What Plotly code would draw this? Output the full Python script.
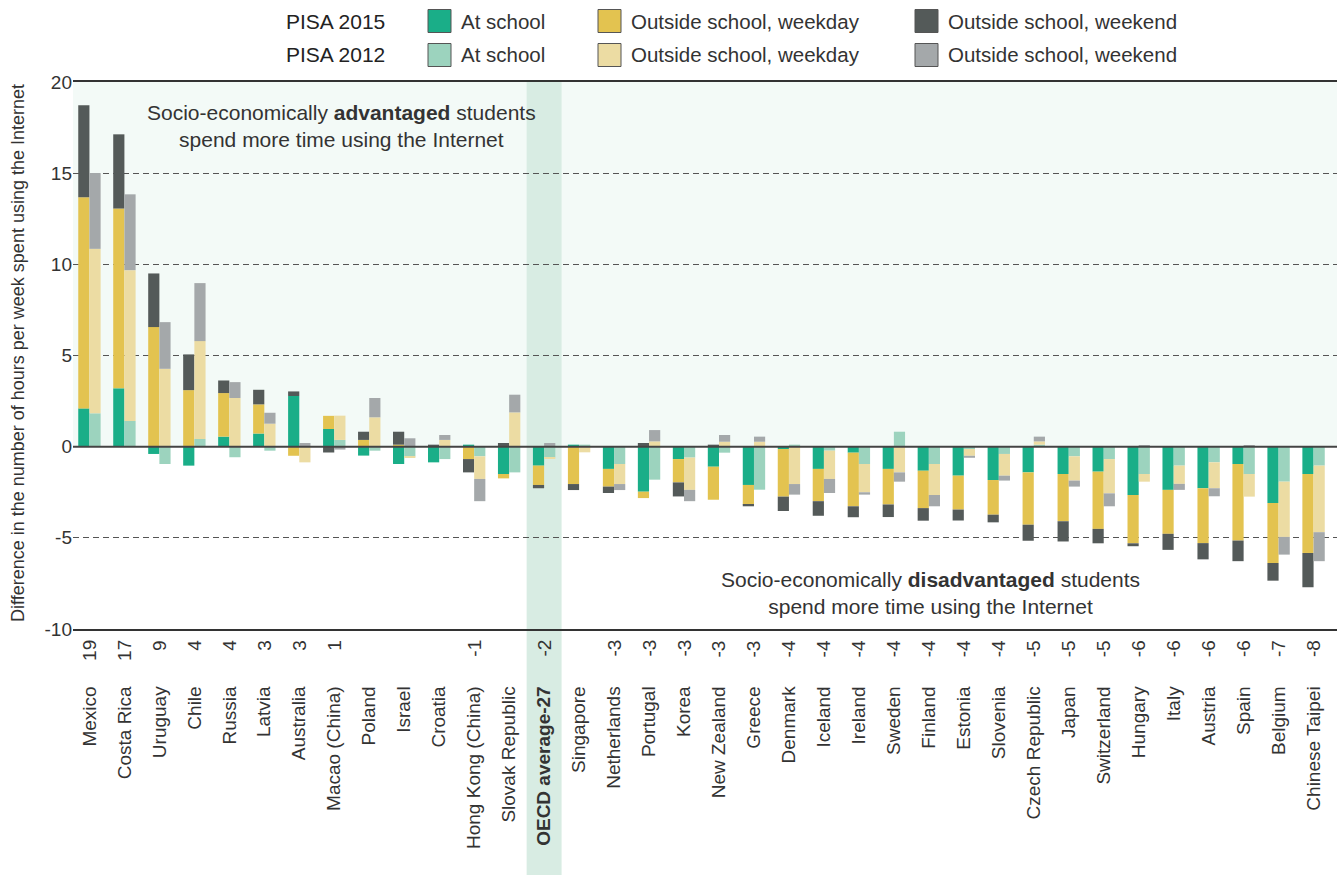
import plotly.graph_objects as go

countries = ["Mexico", "Costa Rica", "Uruguay", "Chile", "Russia", "Latvia", "Australia",
             "Macao (China)", "Poland", "Israel", "Croatia", "Hong Kong (China)", "Slovak Republic",
             "<b>OECD average-27</b>", "Singapore", "Netherlands", "Portugal", "Korea", "New Zealand",
             "Greece", "Denmark", "Iceland", "Ireland", "Sweden", "Finland", "Estonia", "Slovenia",
             "Czech Republic", "Japan", "Switzerland", "Hungary", "Italy", "Austria", "Spain",
             "Belgium", "Chinese Taipei"]
totals = ["19", "17", "9", "4", "4", "3", "3", "1", "", "", "", "-1", "", "-2", "", "-3", "-3", "-3",
          "-3", "-3", "-4", "-4", "-4", "-4", "-4", "-4", "-4", "-5", "-5", "-5", "-6", "-6", "-6",
          "-6", "-7", "-8"]

school_2015 = [2.10, 3.20, -0.40, -1.04, 0.55, 0.72, 2.78, 0.97, -0.49, -0.95, -0.86, 0.11, -1.50,
               -1.04, 0.11, -1.22, -2.47, -0.68, -1.10, -2.10, -0.13, -1.22, -0.33, -1.22, -1.32,
               -1.59, -1.83, -1.41, -1.50, -1.37, -2.65, -2.37, -2.28, -0.95, -3.09, -1.50]
weekday_2015 = [11.58, 9.86, 6.56, 3.10, 2.39, 1.60, -0.50, 0.72, 0.37, 0.11, 0.00, -0.68, -0.24,
                -1.06, -2.05, -0.97, -0.35, -1.28, -1.81, -1.08, -2.61, -1.77, -2.94, -1.95, -2.05,
                -1.86, -1.90, -2.87, -2.59, -3.14, -2.65, -2.41, -3.01, -4.20, -3.29, -4.33]
weekend_2015 = [5.04, 4.07, 2.94, 1.96, 0.69, 0.80, 0.25, -0.32, 0.45, 0.71, 0.11, -0.73, 0.20,
                -0.18, -0.33, -0.35, 0.20, -0.77, 0.11, -0.09, -0.79, -0.80, -0.60, -0.69, -0.69,
                -0.60, -0.42, -0.88, -1.11, -0.79, -0.16, -0.88, -0.89, -1.13, -0.97, -1.88]

school_2012 = [1.83, 1.41, -0.95, 0.42, -0.58, -0.22, 0.00, 0.37, -0.22, -0.53, -0.68, -0.53, -1.41,
               -0.58, 0.11, -0.95, -1.81, -0.60, -0.33, -2.36, 0.11, -0.22, -0.95, 0.82, -0.95,
               -0.13, -0.40, 0.11, -0.53, -0.68, -1.50, -1.04, -0.86, -1.50, -1.92, -1.04]
weekday_2012 = [9.02, 8.27, 4.27, 5.37, 2.67, 1.26, -0.86, 1.33, 1.61, -0.07, 0.37, -1.24, 1.88,
                -0.09, -0.31, -1.10, 0.29, -1.77, 0.27, 0.27, -2.05, -1.55, -1.55, -1.41, -1.70,
                -0.37, -1.19, 0.18, -1.33, -1.88, -0.42, -1.00, -1.42, -1.24, -3.03, -3.65]
weekend_2012 = [4.16, 4.16, 2.56, 3.18, 0.87, 0.60, 0.20, -0.16, 1.06, 0.46, 0.27, -1.22, 0.97,
                0.20, 0.00, -0.33, 0.62, -0.62, 0.37, 0.28, -0.58, -0.77, -0.13, -0.51, -0.62,
                -0.11, -0.27, 0.26, -0.33, -0.71, 0.09, -0.33, -0.44, 0.09, -0.97, -1.59]

series_names = ["At school", "Outside school, weekday", "Outside school, weekend"]
colors_2015 = ["#1aae88", "#e3c350", "#545a59"]
colors_2012 = ["#9cd3be", "#ecdca3", "#a4a8aa"]

FONT = "Liberation Sans"
TXT = "#333333"
W, H = 1341, 875
L, R, T, B = 73, 4, 82, 246
PW, PH = W - L - R, H - T - B


def px_x(px):
    return (px - L) / PW


def px_y(py):
    return (H - B - py) / PH


idx = list(range(len(countries)))
x15 = [i - 0.16 for i in idx]
x12 = [i + 0.16 for i in idx]

fig = go.Figure()
for vals, name, col in zip([school_2015, weekday_2015, weekend_2015], series_names, colors_2015):
    fig.add_trace(go.Bar(x=x15, y=vals, width=0.32, name=name + " (PISA 2015)",
                         marker=dict(color=col, line=dict(width=0)), showlegend=False))
for vals, name, col in zip([school_2012, weekday_2012, weekend_2012], series_names, colors_2012):
    fig.add_trace(go.Bar(x=x12, y=vals, width=0.32, name=name + " (PISA 2012)",
                         marker=dict(color=col, line=dict(width=0)), showlegend=False))

shapes = []
# advantaged region background
shapes.append(dict(type="rect", xref="paper", yref="y", x0=0, x1=1, y0=0, y1=20,
                   fillcolor="#f3faf7", line=dict(width=0), layer="below"))
# OECD column highlight
oecd_i = 13
shapes.append(dict(type="rect", xref="x", yref="paper", x0=oecd_i - 0.5, x1=oecd_i + 0.5,
                   y0=px_y(H), y1=1, fillcolor="#d8ece3", line=dict(width=0), layer="below"))
# zero line above bars
shapes.append(dict(type="line", xref="paper", yref="y", x0=0, x1=1, y0=0, y1=0,
                   line=dict(color="#444444", width=2), layer="above"))

annotations = []
for i, t in enumerate(totals):
    if t:
        annotations.append(dict(x=i, xref="x", y=px_y(638), yref="paper", text=t, textangle=-90,
                                showarrow=False, xanchor="center", yanchor="top",
                                font=dict(family=FONT, size=19, color=TXT)))

annotations.append(dict(x=px_x(341), y=px_y(126), xref="paper", yref="paper",
                        text="Socio-economically <b>advantaged</b> students<br>spend more time using the Internet",
                        showarrow=False, xanchor="center", yanchor="middle", align="center",
                        font=dict(family=FONT, size=21, color=TXT)))
annotations.append(dict(x=px_x(931), y=px_y(593), xref="paper", yref="paper",
                        text="Socio-economically <b>disadvantaged</b> students<br>spend more time using the Internet",
                        showarrow=False, xanchor="center", yanchor="middle", align="center",
                        font=dict(family=FONT, size=21, color=TXT)))
annotations.append(dict(x=px_x(18), y=px_y(353), xref="paper", yref="paper",
                        text="Difference in the number of hours per week spent using the Internet",
                        textangle=-90, showarrow=False, xanchor="center", yanchor="middle",
                        font=dict(family=FONT, size=18, color=TXT)))

# custom legend
row_y = [21, 55]
row_labels = ["PISA 2015", "PISA 2012"]
swatch_x = [428, 598, 915]
for r, (ry, lab, cols) in enumerate(zip(row_y, row_labels, [colors_2015, colors_2012])):
    annotations.append(dict(x=px_x(284), y=px_y(ry), xref="paper", yref="paper", text=lab,
                            showarrow=False, xanchor="left", yanchor="middle",
                            font=dict(family=FONT, size=21, color="#222222")))
    for sx, name, col in zip(swatch_x, series_names, cols):
        shapes.append(dict(type="rect", xref="paper", yref="paper",
                           x0=px_x(sx), x1=px_x(sx + 23), y0=px_y(ry - 11.5), y1=px_y(ry + 11.5),
                           fillcolor=col, line=dict(color="#555555", width=1), layer="above"))
        annotations.append(dict(x=px_x(sx + 31), y=px_y(ry), xref="paper", yref="paper", text=name,
                                showarrow=False, xanchor="left", yanchor="middle",
                                font=dict(family=FONT, size=20.5, color=TXT)))

fig.update_layout(
    width=W, height=H, margin=dict(l=L, r=R, t=T, b=B),
    barmode="relative",
    plot_bgcolor="white", paper_bgcolor="white",
    font=dict(family=FONT, size=19, color=TXT),
    shapes=shapes, annotations=annotations, showlegend=False,
    xaxis=dict(range=[-0.47, 35.67], tickmode="array", tickvals=idx, ticktext=countries,
               tickangle=-90, showgrid=False, zeroline=False, showline=True, mirror=True,
               linecolor="#333333", linewidth=1.5, ticks="", ticklabelstandoff=48,
               tickfont=dict(family=FONT, size=19, color=TXT)),
    yaxis=dict(range=[-10, 20], tickmode="array", tickvals=[-10, -5, 0, 5, 10, 15, 20],
               ticktext=["-10", "-5", "0", "5", "10", "15", "20"],
               showgrid=True, gridcolor="#555555", griddash="6px,4px", gridwidth=1,
               zeroline=False, showline=False, ticks="",
               tickfont=dict(family=FONT, size=19, color=TXT)),
)

fig.write_html("out.html", config={"displayModeBar": False},
               post_script="document.body.style.margin='0';")
